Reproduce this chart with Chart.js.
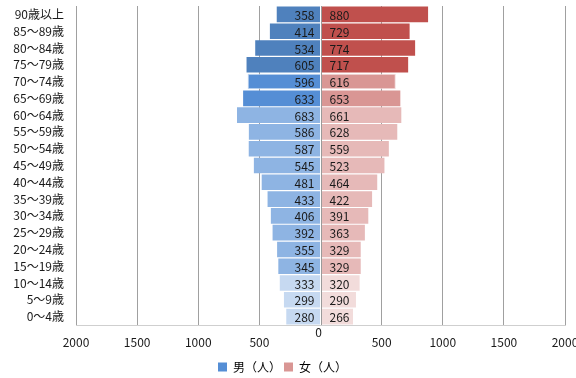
<!DOCTYPE html>
<html>
<head>
<meta charset="utf-8">
<script src="https://cdn.jsdelivr.net/npm/chart.js@4/dist/chart.umd.min.js"></script>
<style>
  html, body { margin: 0; padding: 0; background: #ffffff; }
  #wrap { width: 576px; height: 378px; position: relative; }
</style>
</head>
<body>
<div id="wrap"><canvas id="pyramid"></canvas></div>
<script>
// Age groups, oldest first (top row of the pyramid)
const ageGroups = [
  '90歳以上', '85～89歳', '80～84歳', '75～79歳', '70～74歳', '65～69歳',
  '60～64歳', '55～59歳', '50～54歳', '45～49歳', '40～44歳', '35～39歳',
  '30～34歳', '25～29歳', '20～24歳', '15～19歳', '10～14歳', '5～9歳', '0～4歳'
];
// Population by sex (persons)
const male = [358, 414, 534, 605, 596, 633, 683, 586, 587, 545, 481, 433, 406, 392, 355, 345, 333, 299, 280];
const female = [880, 729, 774, 717, 616, 653, 661, 628, 559, 523, 464, 422, 391, 363, 329, 329, 320, 290, 266];
// Horizontal axis ticks
const tickValues = [-2000, -1500, -1000, -500, 0, 500, 1000, 1500, 2000];
const tickLabels = ['2000', '1500', '1000', '500', '0', '500', '1000', '1500', '2000'];
const seriesNames = ['男（人）', '女（人）'];

// Shade tiers: 75+, 65-74, 15-64, 0-14
const tierOf = (i) => i < 4 ? 0 : i < 6 ? 1 : i < 16 ? 2 : 3;
const maleShades = ['#4f81bd', '#558ed5', '#8eb4e3', '#c6d9f1'];
const femaleShades = ['#c0504d', '#d99694', '#e6b9b8', '#f2dcdb'];
const legendColors = ['#558ed5', '#d99694'];

const JP = '"Noto Sans CJK JP", "Noto Sans", sans-serif';
const INK = '#1a1a1a';

// Centre axis, value labels next to it, and the horizontal tick labels
const pyramidExtras = {
  id: 'pyramidExtras',
  afterDatasetsDraw(chart) {
    const { ctx, chartArea, scales } = chart;
    const x0 = scales.x.getPixelForValue(0);
    ctx.save();
    ctx.strokeStyle = '#9a9a9a';
    ctx.lineWidth = 1;
    ctx.beginPath();
    ctx.moveTo(Math.round(x0) + 0.5, chartArea.top);
    ctx.lineTo(Math.round(x0) + 0.5, chartArea.bottom);
    ctx.stroke();

    ctx.font = '12px ' + JP;
    ctx.fillStyle = INK;
    ctx.textBaseline = 'middle';
    chart.data.datasets.forEach((ds, di) => {
      const meta = chart.getDatasetMeta(di);
      meta.data.forEach((bar, i) => {
        const v = Math.abs(ds.data[i]);
        if (di === 0) {
          ctx.textAlign = 'right';
          ctx.fillText(String(v), x0 - 6, bar.y + 1);
        } else {
          ctx.textAlign = 'left';
          ctx.fillText(String(v), x0 + 9, bar.y + 1);
        }
      });
    });

    ctx.textAlign = 'center';
    ctx.textBaseline = 'middle';
    ctx.font = '12px ' + JP;
    tickValues.forEach((v, k) => {
      const px = scales.x.getPixelForValue(v);
      if (v === 0) {
        ctx.fillText(tickLabels[k], px - 2, chartArea.bottom + 7);
      } else {
        ctx.fillText(tickLabels[k], px, chartArea.bottom + 17);
      }
    });
    ctx.restore();
  }
};

new Chart(document.getElementById('pyramid'), {
  type: 'bar',
  data: {
    labels: ageGroups,
    datasets: [
      {
        label: seriesNames[0],
        data: male.map(v => -v),
        backgroundColor: male.map((_, i) => maleShades[tierOf(i)]),
        borderColor: male.map((_, i) => i === 4 ? '#c6d9f1' : 'rgba(0,0,0,0)'),
        borderWidth: male.map((_, i) => i === 4 ? 1 : 0),
        barPercentage: 0.93,
        categoryPercentage: 1.0
      },
      {
        label: seriesNames[1],
        data: female,
        backgroundColor: female.map((_, i) => femaleShades[tierOf(i)]),
        borderColor: female.map((_, i) => i === 4 ? '#f2dcdb' : 'rgba(0,0,0,0)'),
        borderWidth: female.map((_, i) => i === 4 ? 1 : 0),
        barPercentage: 0.93,
        categoryPercentage: 1.0
      }
    ]
  },
  options: {
    indexAxis: 'y',
    responsive: true,
    maintainAspectRatio: false,
    animation: false,
    layout: { padding: { top: 0, left: 0, right: 11, bottom: -5 } },
    scales: {
      x: {
        stacked: true,
        min: -2000,
        max: 2000,
        afterBuildTicks(scale) {
          scale.ticks = tickValues.map(v => ({ value: v }));
        },
        afterFit(scale) { scale.height = 33; },
        ticks: { display: false },
        grid: {
          color: (c) => c.tick && c.tick.value === 0 ? 'rgba(0,0,0,0)' : '#a0a0a0',
          lineWidth: 1,
          drawTicks: false
        },
        border: { display: true, color: '#cfcfcf', width: 1 }
      },
      y: {
        stacked: true,
        afterFit(scale) { scale.width = 76; },
        ticks: {
          padding: 0,
          autoSkip: false,
          color: INK,
          font: { family: JP, size: 12, lineHeight: 1 }
        },
        grid: {
          display: true,
          drawOnChartArea: false,
          drawTicks: true,
          tickLength: 12,
          tickColor: 'rgba(0,0,0,0)',
          color: 'rgba(0,0,0,0)'
        },
        border: { display: false }
      }
    },
    plugins: {
      tooltip: { enabled: false },
      legend: {
        position: 'bottom',
        labels: {
          boxWidth: 9,
          boxHeight: 9,
          padding: 3,
          color: INK,
          font: { family: JP, size: 12 },
          generateLabels(chart) {
            return chart.data.datasets.map((ds, i) => ({
              text: ds.label,
              fillStyle: legendColors[i],
              strokeStyle: legendColors[i],
              lineWidth: 0,
              datasetIndex: i,
              hidden: false
            }));
          }
        }
      }
    }
  },
  plugins: [pyramidExtras]
});
</script>
</body>
</html>
